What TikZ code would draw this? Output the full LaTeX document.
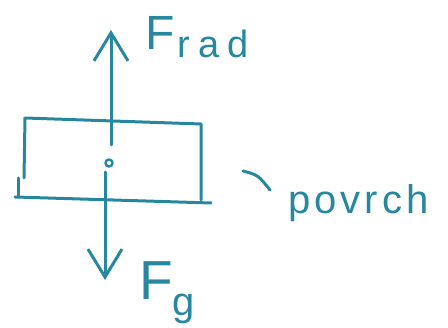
\documentclass[tikz,border=0pt]{standalone}
\usepackage{fontspec}
\setmainfont{Liberation Sans}
\usetikzlibrary{arrows.meta}
\definecolor{ink}{RGB}{38,135,158}
\begin{document}
\begin{tikzpicture}[x=1pt,y=-1pt,
  pen/.style={draw=ink, line width=3pt, line cap=round, line join=round},
  force/.style={pen, -{Straight Barb[length=28pt,width=34pt,line width=3pt]}},
  lbl/.style={text=ink, inner sep=0pt}]
\useasboundingbox (0,0) rectangle (448,328);
% box (hand drawn)
\draw[pen] (25,118) -- (201,124) -- (201,200);
\draw[pen] (25,118) -- (24,178);
\draw[pen] (18,178) -- (18,197);
\draw[pen] (15,197) -- (211,203);
% centre point
\node[circle, draw=ink, line width=2.4pt, minimum size=7pt, inner sep=0pt] (dot) at (109,163) {};
% forces
\coordinate (upstart) at (111,145);
\coordinate (uptip) at (111,30);
\draw[force] (upstart) -- (uptip);
\coordinate (dnstart) at (105,172);
\coordinate (dntip) at (105,280);
\draw[force] (dnstart) -- (dntip);
% labels
\node[lbl, anchor=base west, font=\fontsize{48}{48}\selectfont] (frad) at (145,50)
  {F\hspace{3pt}\raisebox{-8pt}{\fontsize{38}{38}\selectfont\addfontfeature{LetterSpace=22}rad}};
\node[lbl, anchor=base west, font=\fontsize{55}{55}\selectfont] (fg) at (139,300)
  {F\raisebox{-16pt}{\fontsize{40}{40}\selectfont g}};
\node[lbl, anchor=base west, font=\fontsize{40}{40}\selectfont] (povrch) at (288,214)
  {\addfontfeature{LetterSpace=10}povrch};
% leader to surface label
\coordinate (lead1) at (243,171);
\coordinate (lead2) at (270,190);
\draw[pen] (lead1) .. controls (258,175) .. (lead2);
\end{tikzpicture}
\end{document}
